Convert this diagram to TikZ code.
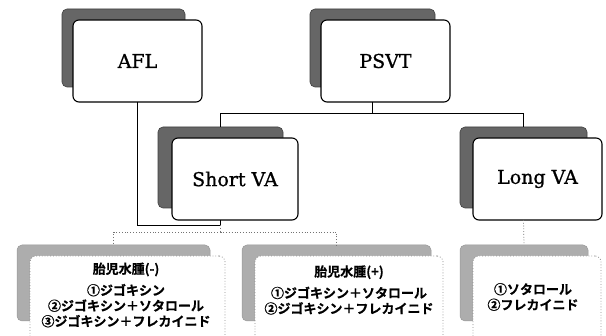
\documentclass[tikz,border=0pt]{standalone}
\usepackage{fontspec}
\setmainfont{DejaVu Serif}
\newfontfamily\lab{DejaVu Serif}[FakeBold=0.9]
\newfontfamily\jp{Noto Sans CJK JP}[BoldFont={Noto Sans CJK JP Bold}, BoldFeatures={FakeBold=0.6}]
\begin{document}
\begin{tikzpicture}[x=1pt,y=-1pt,
  topshadow/.style={draw=black!75, fill=black!60, rounded corners=5pt, inner sep=0pt, outer sep=0pt, anchor=north west, line width=0.6pt},
  topcard/.style={draw=black, fill=white, line width=1.1pt, rounded corners=6pt, inner sep=0pt, outer sep=0pt, anchor=north west, font=\lab\fontsize{19}{22}\selectfont},
  botshadow/.style={draw=black!40, fill=black!32, rounded corners=5pt, anchor=north west, inner sep=0pt, outer sep=0pt, line width=0.5pt},
  botcard/.style={draw=black!45, dotted, fill=white, line width=0.8pt, rounded corners=6pt, anchor=north west, inner sep=0pt, outer sep=0pt},
  bottext/.style={font=\jp\bfseries\fontsize{13}{15.5}\selectfont, align=center, inner sep=0pt},
  link/.style={draw=black, line width=0.8pt},
  dlink/.style={draw=black!55, dotted, line width=0.8pt}
]
\useasboundingbox (0,0) rectangle (606,336);
\clip (0,0) rectangle (606,336);
\fill[white] (0,0) rectangle (606,336);

% top row
\node[topshadow, minimum width=123pt, minimum height=78pt] (aflS) at (62,9) {};
\node[topcard, minimum width=129pt, minimum height=82pt] (afl) at (73,20) {AFL};
\node[topshadow, minimum width=125pt, minimum height=78pt] (psvtS) at (310,9) {};
\node[topcard, minimum width=129pt, minimum height=82pt] (psvt) at (321,20) {PSVT};

% middle row
\node[topshadow, minimum width=125pt, minimum height=81pt] (svaS) at (158,127) {};
\node[topcard, minimum width=126pt, minimum height=82pt] (sva) at (172,138) {Short VA};
\node[topshadow, minimum width=127pt, minimum height=81pt] (lvaS) at (460,127) {};
\node[topcard, minimum width=129pt, minimum height=82pt] (lva) at (473,138) {Long VA};

% bottom row
\node[botshadow, minimum width=193pt, minimum height=76pt] (b1S) at (17,245) {};
\node[botcard, minimum width=195pt, minimum height=95pt] (b1) at (30,256) {};
\node[botshadow, minimum width=189pt, minimum height=76pt] (b2S) at (242,245) {};
\node[botcard, minimum width=188pt, minimum height=95pt] (b2) at (255,256) {};
\node[botshadow, minimum width=128pt, minimum height=76pt] (b3S) at (460,245) {};
\node[botcard, minimum width=128pt, minimum height=95pt] (b3) at (473,256) {};

\node[bottext] (t1) at (126,295) {胎児水腫(-)\\[6pt]①ジゴキシン\\②ジゴキシン＋ソタロール\\③ジゴキシン＋フレカイニド};
\node[bottext] (t2) at (349,290) {胎児水腫(+)\\[6pt]①ジゴキシン＋ソタロール\\②ジゴキシン＋フレカイニド};
\node[bottext] (t3) at (533,297) {①ソタロール\\②フレカイニド};

% connectors
\draw[link] (psvtS |- psvt.south) -- (psvtS |- 0,113) coordinate (hj) -| (svaS.north);
\draw[link] (hj) -| (lvaS.north);
\coordinate (sj) at (svaS |- 0,225);
\draw[link] (afl.south) |- (sj) -- (svaS |- sva.south);
\coordinate (dj) at (svaS |- 0,232);
\draw[dlink] (sj) -- (dj);
\draw[dlink] (dj) -| (b1S.north);
\draw[dlink] (dj) -| (b2S.north);
\draw[dlink] (lvaS |- lva.south) -- (b3S.north);
\end{tikzpicture}
\end{document}
